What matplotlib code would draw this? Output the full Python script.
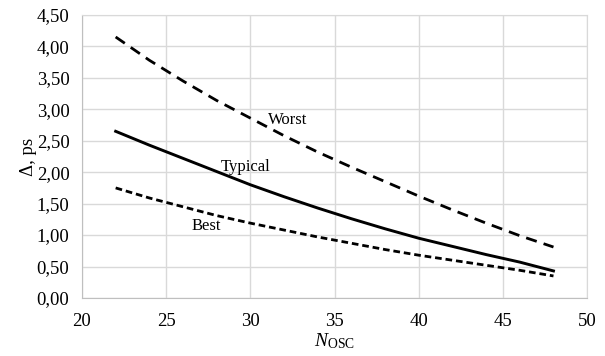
import matplotlib
matplotlib.use("Agg")
import matplotlib.pyplot as plt
from matplotlib.ticker import FuncFormatter, MultipleLocator

plt.rcParams['font.family'] = ['Liberation Serif', 'DejaVu Serif']
plt.rcParams['mathtext.fontset'] = 'custom'
plt.rcParams['mathtext.rm'] = 'Liberation Serif'
plt.rcParams['mathtext.it'] = 'Liberation Serif:italic'

n_osc = [22, 24, 26, 28, 30, 32, 34, 36, 38, 40, 42, 44, 46, 48]
worst = [4.15, 3.78, 3.45, 3.14, 2.86, 2.58, 2.32, 2.08, 1.85, 1.62, 1.40, 1.19, 0.99, 0.81]
typical = [2.65, 2.43, 2.22, 2.01, 1.80, 1.61, 1.43, 1.26, 1.10, 0.95, 0.82, 0.69, 0.57, 0.43]
best = [1.75, 1.59, 1.45, 1.31, 1.19, 1.08, 0.97, 0.87, 0.77, 0.68, 0.60, 0.52, 0.44, 0.35]

fig = plt.figure(figsize=(6.05, 3.56), dpi=100)
ax = fig.add_axes([0.1355, 0.163, 0.835, 0.795])

ax.plot(n_osc, worst, color='black', lw=2.0, linestyle=(0, (4, 2.6)))
ax.plot(n_osc, typical, color='black', lw=2.1)
ax.plot(n_osc, best, color='black', lw=2.0, linestyle=(0, (2.4, 1.4)))

ax.text(32.2, 2.83, 'Worst', fontsize=12, ha='center', va='center')
ax.text(29.7, 2.08, 'Typical', fontsize=12, ha='center', va='center')
ax.text(27.4, 1.14, 'Best', fontsize=12, ha='center', va='center')

ax.set_xlim(20, 50)
ax.set_ylim(0, 4.5)
ax.xaxis.set_major_locator(MultipleLocator(5))
ax.yaxis.set_major_locator(MultipleLocator(0.5))
ax.yaxis.set_major_formatter(FuncFormatter(lambda v, p: f'{v:.2f}'.replace('.', ',')))
ax.grid(True, color='#d9d9d9', lw=1.0)
ax.set_axisbelow(True)
for s in ['top', 'right']:
    ax.spines[s].set_color('#d9d9d9')
for s in ['left', 'bottom']:
    ax.spines[s].set_color('#bfbfbf')
ax.tick_params(axis='y', length=0, labelsize=13.5, pad=9)
ax.tick_params(axis='x', length=0, labelsize=13.5, pad=11)

ax.set_ylabel('Δ, ps', fontsize=13.5, labelpad=0)
ax.set_xlabel(r'$\mathit{N}_{\mathrm{OSC}}$', fontsize=14, labelpad=1)

fig.savefig('out.png', dpi=100)
